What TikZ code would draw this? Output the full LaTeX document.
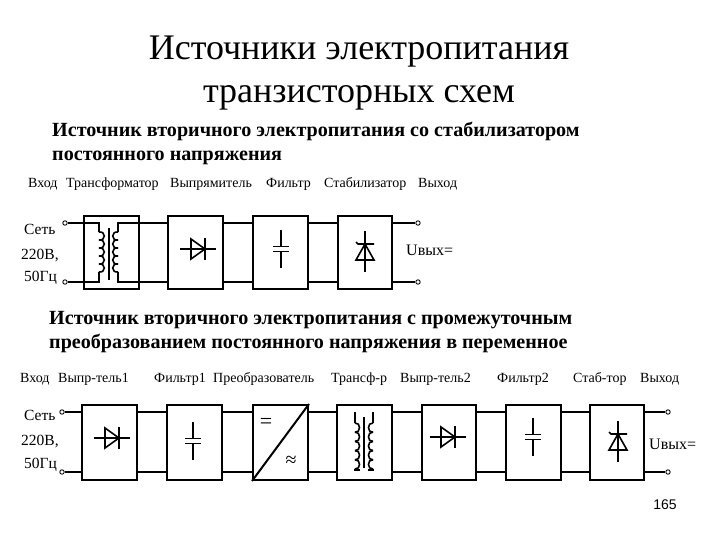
\documentclass[tikz,border=0pt]{standalone}
\usepackage{fontspec}
\setmainfont{Liberation Serif}
\newfontfamily\sansf{Liberation Sans}
\newcommand{\coilv}[5]{% x, ytop, bulge, pitch, count
  \foreach \ci in {1,...,#5}{
    \draw[wire] (#1,{#2+(\ci-1)*#4}) .. controls ({#1+#3},{#2+(\ci-1)*#4-1}) and ({#1+#3},{#2+\ci*#4+1}) .. (#1,{#2+\ci*#4});
  }}
\tikzset{
  x=1pt,y=-1pt,
  wire/.style={line width=1.6pt,black},
  heavy/.style={line width=2.6pt,black},
  blockbox/.style={draw=black,line width=2pt,fill=white,inner sep=0pt,anchor=north west},
  term/.style={circle,draw=black,line width=0.9pt,fill=white,minimum size=4.4pt,inner sep=0pt},
  title/.style={font=\fontsize{36}{40}\selectfont,anchor=base,inner sep=0pt},
  head/.style={font=\bfseries\fontsize{20.1}{22}\selectfont,anchor=base west,inner sep=0pt},
  lab/.style={font=\fontsize{14}{16}\selectfont,anchor=base west,inner sep=0pt},
  side/.style={font=\fontsize{15.5}{17}\selectfont,anchor=base west,inner sep=0pt},
  uout/.style={font=\fontsize{16}{18}\selectfont,anchor=base west,inner sep=0pt},
  pics/diode/.style={code={
    \draw[wire] (-17,0) -- (19,0);
    \draw[wire] (-6,-10) -- (-6,10) -- (8,0) -- cycle;
    \draw[wire] (8,-11) -- (8,11);
  }},
  pics/capac/.style={code={
    \draw[wire] (0,-19) -- (0,-2.5) (0,2.5) -- (0,19);
    \draw[wire] (-8,-2.5) -- (8,-2.5) (-8,2.5) -- (8,2.5);
  }},
  pics/zener/.style={code={
    \draw[wire] (0,-20) -- (0,21);
    \draw[wire] (-9,9) -- (9,9) -- (0,-7) -- cycle;
    \draw[wire] (-9,-9) -- (-7,-7) -- (9,-7);
  }},
}
\begin{document}
\begin{tikzpicture}
\useasboundingbox (0,0) rectangle (720,540);
% titles
\node[title] (t1) at (359,60) {Источники электропитания};
\node[title] (t2) at (359,103) {транзисторных схем};
\node[head] (h1) at (52,137) {Источник вторичного электропитания со стабилизатором};
\node[head] (h2) at (52,161) {постоянного напряжения};
\node[head] (h3) at (49,324) {Источник вторичного электропитания с промежуточным};
\node[head] (h4) at (49,348) {преобразованием постоянного напряжения в переменное};
% top labels
\node[lab] (la) at (28,188) {Вход};
\node[lab] (lb) at (66,188) {Трансформатор};
\node[lab] (lc) at (170,188) {Выпрямитель};
\node[lab] (ld) at (266,188) {Фильтр};
\node[lab] (le) at (324,188) {Стабилизатор};
\node[lab] (lf) at (418,188) {Выход};
% bottom labels
\node[lab] (ma) at (20,382) {Вход};
\node[lab] (mb) at (58,382) {Выпр-тель1};
\node[lab] (mc) at (154,382) {Фильтр1};
\node[lab] (md) at (213,382) {Преобразователь};
\node[lab] (me) at (331,382) {Трансф-р};
\node[lab] (mf) at (400,382) {Выпр-тель2};
\node[lab] (mg) at (497,382) {Фильтр2};
\node[lab] (mh) at (573,382) {Стаб-тор};
\node[lab] (mi) at (640,382) {Выход};
% side labels
\node[side] (s1) at (24,235) {Сеть};
\node[side] (s2) at (21,259) {220В,};
\node[side] (s3) at (24,281) {50Гц};
\node[side] (s4) at (24,420) {Сеть};
\node[side] (s5) at (21,445) {220В,};
\node[side] (s6) at (24,468) {50Гц};
\node[uout] (u1) at (406,255) {Uвых=};
\node[uout] (u2) at (649,449) {Uвых=};
\node[font=\sansf\fontsize{14}{16}\selectfont] (pg) at (665,505) {165};
% wire levels
\coordinate (wa) at (0,223);
\coordinate (wb) at (0,282);
\coordinate (wc) at (0,412);
\coordinate (wd) at (0,472);
% terminals
\node[term] (ti1) at (65,223) {};
\node[term] (ti2) at (65,282) {};
\node[term] (to1) at (418,223) {};
\node[term] (to2) at (418,282) {};
\node[term] (bi1) at (62,412) {};
\node[term] (bi2) at (62,472) {};
\node[term] (bo1) at (668,412) {};
\node[term] (bo2) at (668,472) {};
% top row blocks
\node[blockbox,minimum width=55pt,minimum height=73pt] (A) at (83,215) {};
\node[blockbox,minimum width=55pt,minimum height=73pt] (B) at (167,215) {};
\node[blockbox,minimum width=55pt,minimum height=73pt] (C) at (252,215) {};
\node[blockbox,minimum width=54pt,minimum height=73pt] (D) at (337,215) {};
% bottom row blocks
\node[blockbox,minimum width=55pt,minimum height=75pt] (E) at (81,404) {};
\node[blockbox,minimum width=55pt,minimum height=75pt] (F) at (166,404) {};
\node[blockbox,minimum width=55pt,minimum height=75pt] (G) at (252,404) {};
\node[blockbox,minimum width=55pt,minimum height=75pt] (H) at (336,404) {};
\node[blockbox,minimum width=54pt,minimum height=75pt] (I) at (421,404) {};
\node[blockbox,minimum width=55pt,minimum height=75pt] (J) at (505,404) {};
\node[blockbox,minimum width=54pt,minimum height=75pt] (K) at (589,404) {};
% top connectors
\draw[wire] (ti1.east) -- (99,223) -- (99,232);
\draw[wire] (ti2.east) -- (99,282) -- (99,272);
\draw[wire] (A.east |- wa) -- (118,223) -- (118,232);
\draw[wire] (A.east |- wb) -- (118,282) -- (118,272);
\draw[wire] (A.east |- wa) -- (B.west |- wa);
\draw[wire] (A.east |- wb) -- (B.west |- wb);
\draw[wire] (B.east |- wa) -- (C.west |- wa);
\draw[wire] (B.east |- wb) -- (C.west |- wb);
\draw[heavy] (244,223) -- (C.west |- wa);
\draw[heavy] (226,282) -- (C.west |- wb);
\draw[wire] (C.east |- wa) -- (D.west |- wa);
\draw[wire] (C.east |- wb) -- (D.west |- wb);
\draw[wire] (D.east |- wa) -- (to1.west);
\draw[wire] (D.east |- wb) -- (to2.west);
% bottom connectors
\draw[wire] (bi1.east) -- (E.west |- wc);
\draw[wire] (bi2.east) -- (E.west |- wd);
\draw[wire] (E.east |- wc) -- (F.west |- wc);
\draw[wire] (E.east |- wd) -- (F.west |- wd);
\draw[wire] (F.east |- wc) -- (G.west |- wc);
\draw[wire] (F.east |- wd) -- (G.west |- wd);
\draw[heavy] (F.east |- wc) -- (229,412);
\draw[wire] (G.east |- wc) -- (H.west |- wc);
\draw[wire] (G.east |- wd) -- (H.west |- wd);
\draw[wire] (H.east |- wc) -- (I.west |- wc);
\draw[wire] (H.east |- wd) -- (I.west |- wd);
\draw[heavy] (I.east |- wc) -- (J.west |- wc);
\draw[wire] (I.east |- wd) -- (J.west |- wd);
\draw[wire] (J.east |- wc) -- (K.west |- wc);
\draw[wire] (J.east |- wd) -- (K.west |- wd);
\draw[wire] (K.east |- wc) -- (bo1.west);
\draw[wire] (K.east |- wd) -- (bo2.west);
% top row symbols
\draw[wire] (109,228) -- (109,280);
\coilv{99}{232}{7}{8}{5}
\coilv{118}{232}{-7}{8}{5}
\pic at (197,249) {diode};
\pic at (281,249) {capac};
\pic at (365,251) {zener};
% bottom row symbols
\pic at (111,438) {diode};
\pic at (193,441) {capac};
\draw[line width=2pt] (G.south west) -- (G.north east);
\node[font=\fontsize{22}{24}\selectfont] (eq) at (266,423) {=};
\node[font=\fontsize{20}{22}\selectfont] (ap) at (291,461) {≈};
\draw[wire] (364,417) -- (364,468);
\draw[wire] (355,412) -- (355,423) (373,412) -- (373,423);
\draw[wire] (355,469) -- (355,470) -- (360,470) (373,469) -- (373,470) -- (368,470);
\coilv{355}{423}{6}{9.2}{5}
\coilv{373}{423}{-6}{9.2}{5}
\pic at (447,437) {diode};
\pic at (533,437) {capac};
\pic at (618,441) {zener};
\end{tikzpicture}
\end{document}
